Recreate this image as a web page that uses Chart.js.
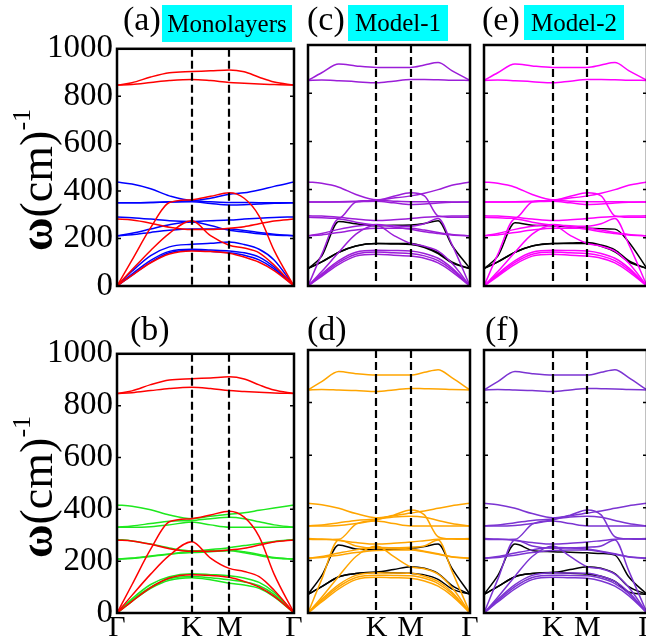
<!DOCTYPE html>
<html>
<head>
<meta charset="utf-8">
<script src="https://cdn.jsdelivr.net/npm/chart.js@4.4.0/dist/chart.umd.min.js"></script>
<style>
    body { margin: 0; background: #fff; overflow: hidden; }
    #fig { position: relative; width: 646px; height: 641px; overflow: hidden; background: #fff;
           font-family: "Liberation Serif", Tinos, "Times New Roman", "Nimbus Roman", FreeSerif, "DejaVu Serif", serif; color: #000; }
    #fig canvas { position: absolute; }
    .lbl { position: absolute; font-size: 34px; line-height: 34px; white-space: nowrap; }
    .tag { position: absolute; background: #00ffff; font-size: 25px; text-align: center; white-space: nowrap; }
    .ylab { position: absolute; width: 220px; height: 50px; line-height: 50px; text-align: center;
            font-size: 46px; transform: rotate(-90deg); white-space: nowrap; }
    .ylab sup { font-size: 26px; vertical-align: 22px; line-height: 0; }
</style>
</head>
<body>
<div id="fig">
    <canvas id="panel-a"></canvas>
    <canvas id="panel-c"></canvas>
    <canvas id="panel-e"></canvas>
    <canvas id="panel-b"></canvas>
    <canvas id="panel-d"></canvas>
    <canvas id="panel-f"></canvas>

    <div class="ylab" style="left:-73px; top:155px;"><b>ω</b>(cm)<sup>-1</sup></div>
    <div class="ylab" style="left:-73px; top:462px;"><b>ω</b>(cm)<sup>-1</sup></div>

    <div class="lbl" style="left:123px; top:2px;">(a)</div>
    <div class="tag" style="left:162px; top:5px; width:130px; height:37px; line-height:37px;">Monolayers</div>
    <div class="lbl" style="left:307px; top:2px;">(c)</div>
    <div class="tag" style="left:348px; top:5px; width:100px; height:36px; line-height:36px;">Model-1</div>
    <div class="lbl" style="left:482px; top:2px;">(e)</div>
    <div class="tag" style="left:524px; top:5px; width:100px; height:35px; line-height:35px;">Model-2</div>
    <div class="lbl" style="left:130px; top:312px;">(b)</div>
    <div class="lbl" style="left:307px; top:312px;">(d)</div>
    <div class="lbl" style="left:485px; top:312px;">(f)</div>
</div>

<script>
// k-path distance along Γ-K-M-Γ (hexagonal BZ, |ΓK| = 1)
var kPath = [0, 0.2, 0.45, 0.7, 1, 1.25, 1.5, 1.7, 1.9, 2.1, 2.366];
var kLabelPos = [0, 1, 1.5, 2.366];
var kLabelText = ['Γ', 'K', 'M', 'Γ'];

// frequencies in cm^-1, one row per band, read at kPath
var redBands = [
    [847, 850, 858, 866, 871, 866, 858, 855, 852, 849, 847],
    [847, 857, 881, 899, 904, 907, 911, 903, 880, 860, 847],
    [282, 278, 265, 248, 238, 238, 243, 250, 262, 274, 282],
    [0, 109, 246, 352, 364, 378, 393, 370, 295, 150, 0],
    [0, 68, 150, 222, 275, 212, 172, 160, 140, 88, 0],
    [0, 45, 98, 135, 148, 145, 138, 122, 100, 65, 0]
];

var blueBands = [
    [438, 430, 410, 380, 361, 370, 387, 393, 405, 420, 438],
    [351, 351, 352, 355, 359, 355, 352, 352, 351, 351, 351],
    [351, 351, 352, 354, 355, 348, 342, 343, 346, 349, 351],
    [291, 288, 282, 275, 272, 275, 278, 282, 286, 289, 291],
    [212, 222, 240, 258, 270, 255, 235, 228, 220, 215, 212],
    [212, 216, 226, 235, 240, 240, 240, 234, 226, 218, 212],
    [0, 62, 128, 165, 176, 180, 186, 175, 155, 110, 0],
    [0, 50, 108, 146, 155, 152, 148, 140, 122, 80, 0],
    [0, 45, 100, 140, 151, 146, 140, 130, 110, 72, 0]
];

var greenBands = [
    [417, 412, 398, 378, 364, 373, 381, 387, 396, 405, 417],
    [331, 336, 345, 354, 357, 364, 369, 364, 352, 340, 331],
    [331, 331, 333, 340, 351, 340, 331, 331, 331, 331, 331],
    [284, 278, 266, 251, 240, 245, 252, 260, 268, 276, 284],
    [208, 212, 220, 228, 237, 240, 242, 236, 226, 214, 208],
    [208, 210, 218, 227, 233, 236, 240, 232, 222, 212, 208],
    [0, 55, 110, 140, 151, 148, 144, 135, 118, 80, 0],
    [0, 50, 100, 132, 141, 136, 128, 120, 105, 72, 0],
    [0, 45, 95, 126, 136, 128, 115, 108, 95, 62, 0]
];

// heterostructure bands, top row (c, e)
var modelTopBands = [
    [853, 885, 921, 913, 907, 907, 907, 917, 927, 894, 853],
    [853, 855, 852, 848, 843, 850, 857, 857, 856, 854, 853],
    [432, 426, 410, 380, 358, 365, 374, 385, 400, 418, 432],
    [349, 349, 350, 352, 355, 352, 350, 350, 350, 349, 349],
    [349, 349, 349, 350, 352, 345, 338, 340, 344, 347, 349],
    [285, 283, 281, 349, 355, 372, 387, 374, 291, 285, 285],
    [0, 131, 278, 265, 253, 250, 248, 258, 280, 174, 0],
    [291, 290, 285, 278, 272, 275, 280, 285, 288, 290, 291],
    [208, 218, 235, 248, 255, 245, 235, 225, 218, 212, 208],
    [208, 212, 222, 232, 240, 240, 240, 232, 222, 214, 208],
    [0, 60, 140, 215, 252, 210, 176, 165, 145, 95, 0],
    [0, 50, 105, 140, 148, 147, 145, 135, 115, 75, 0],
    [0, 45, 98, 132, 141, 138, 135, 125, 105, 68, 0],
    [0, 40, 90, 124, 132, 128, 124, 115, 96, 60, 0]
];

// heterostructure bands, bottom row (d, f)
var modelBottomBands = [
    [848, 880, 918, 910, 905, 905, 905, 915, 925, 895, 848],
    [848, 850, 848, 846, 842, 848, 854, 853, 852, 850, 848],
    [417, 412, 398, 378, 362, 370, 380, 388, 398, 408, 417],
    [331, 335, 343, 352, 357, 365, 368, 364, 352, 340, 331],
    [331, 331, 333, 340, 350, 340, 331, 331, 331, 331, 331],
    [280, 279, 280, 338, 354, 372, 392, 373, 290, 281, 280],
    [0, 128, 278, 255, 246, 248, 250, 255, 278, 161, 0],
    [283, 281, 276, 268, 262, 265, 270, 275, 280, 282, 283],
    [208, 215, 228, 240, 250, 247, 243, 235, 225, 214, 208],
    [208, 211, 220, 230, 238, 240, 240, 233, 223, 213, 208],
    [0, 60, 140, 215, 255, 215, 176, 168, 148, 98, 0],
    [0, 52, 108, 143, 153, 152, 151, 140, 120, 80, 0],
    [0, 47, 100, 135, 144, 143, 142, 132, 112, 74, 0],
    [0, 42, 92, 127, 136, 134, 132, 122, 102, 66, 0]
];

// interlayer (black) bands
var blackC = [
    [72, 124, 268, 258, 250, 252, 253, 259, 271, 170, 72],
    [72, 100, 140, 166, 176, 176, 176, 163, 138, 100, 72],
    [72, 100, 140, 166, 176, 174, 172, 160, 134, 96, 72]
];
var blackE = [
    [72, 124, 262, 252, 250, 245, 240, 238, 236, 183, 72],
    [72, 100, 140, 166, 176, 178, 181, 170, 150, 105, 72],
    [72, 100, 140, 166, 176, 176, 176, 165, 142, 100, 72]
];
var blackD = [
    [71, 142, 259, 243, 240, 242, 246, 253, 262, 171, 71],
    [71, 100, 138, 150, 155, 165, 176, 170, 150, 105, 71],
    [71, 100, 138, 150, 155, 153, 151, 145, 128, 92, 71]
];
var blackF = [
    [71, 142, 262, 238, 233, 231, 229, 226, 220, 138, 71],
    [71, 100, 138, 150, 154, 165, 176, 170, 150, 100, 71],
    [71, 100, 138, 150, 154, 151, 148, 140, 120, 80, 71]
];

Chart.defaults.font.family = "'Liberation Serif', Tinos, 'Times New Roman', 'Nimbus Roman', FreeSerif, 'DejaVu Serif', serif";
Chart.defaults.color = '#000';

// frame, dashed K/M lines and inner ticks
var framePlugin = {
    id: 'frame',
    afterDatasetsDraw: function(chart) {
        var ctx = chart.ctx;
        var area = chart.chartArea;
        var xs = chart.scales.x;
        var ys = chart.scales.y;
        ctx.save();
        ctx.strokeStyle = '#000';
        ctx.lineWidth = 2.2;
        ctx.setLineDash([8, 4]);
        [kLabelPos[1], kLabelPos[2]].forEach(function(k) {
            var px = Math.round(xs.getPixelForValue(k));
            ctx.beginPath();
            ctx.moveTo(px, area.top);
            ctx.lineTo(px, area.bottom);
            ctx.stroke();
        });
        ctx.setLineDash([]);
        ctx.lineWidth = 1.5;
        [200, 400, 600, 800].forEach(function(v) {
            var py = ys.getPixelForValue(v);
            ctx.beginPath();
            ctx.moveTo(area.left, py); ctx.lineTo(area.left + 4, py);
            ctx.moveTo(area.right - 4, py); ctx.lineTo(area.right, py);
            ctx.stroke();
        });
        ctx.lineWidth = 2.5;
        ctx.strokeRect(area.left, area.top, area.right - area.left, area.bottom - area.top);
        ctx.restore();
    }
};

function toPoints(band) {
    return band.map(function(v, i) { return {x: kPath[i], y: v}; });
}

function makeDatasets(groups) {
    var sets = [];
    groups.forEach(function(g) {
        g.bands.forEach(function(band) {
            sets.push({
                data: toPoints(band),
                borderColor: g.color,
                borderWidth: 1.5,
                pointRadius: 0,
                fill: false,
                cubicInterpolationMode: 'monotone'
            });
        });
    });
    return sets;
}

// box = [left, top, width, height] of the plot frame in page pixels
function drawPanel(id, box, groups, showY, xTicks) {
    var padL = showY ? box[0] : 14;
    var padR = 14, padT = 20;
    var padB = xTicks ? 28 : 20;
    var canvas = document.getElementById(id);
    canvas.width = box[2] + padL + padR;
    canvas.height = box[3] + padT + padB;
    canvas.style.left = (box[0] - padL) + 'px';
    canvas.style.top = (box[1] - padT) + 'px';

    return new Chart(canvas, {
        type: 'line',
        data: { datasets: makeDatasets(groups) },
        plugins: [framePlugin],
        options: {
            responsive: false,
            animation: false,
            devicePixelRatio: 1,
            layout: { padding: { left: showY ? 0 : padL, right: padR, top: padT, bottom: xTicks ? 0 : padB } },
            plugins: { legend: { display: false }, tooltip: { enabled: false } },
            scales: {
                x: {
                    type: 'linear', min: 0, max: kLabelPos[3],
                    display: !!xTicks,
                    grid: { display: false, drawTicks: false },
                    border: { display: false },
                    afterBuildTicks: function(s) {
                        if (xTicks) s.ticks = xTicks.map(function(v) { return {value: v}; });
                    },
                    afterFit: function(s) { s.height = padB; },
                    ticks: {
                        autoSkip: false, maxRotation: 0, padding: 0,
                        font: { size: 30, lineHeight: 1 },
                        callback: function(v) { return kLabelText[kLabelPos.indexOf(v)]; }
                    }
                },
                y: {
                    min: 0, max: 1000,
                    display: showY,
                    grid: { display: false, drawTicks: false },
                    border: { display: false },
                    afterFit: function(s) { s.width = padL; },
                    ticks: {
                        stepSize: 200, padding: 4,
                        font: { size: 33 },
                        callback: function(v) { return v; }
                    }
                }
            }
        }
    });
}

drawPanel('panel-a', [117, 45, 177, 261],
    [{bands: redBands, color: '#ff0000'}, {bands: blueBands, color: '#0000ff'}], true, null);
drawPanel('panel-c', [294, 45, 176, 261],
    [{bands: modelTopBands, color: '#9b1ed8'}, {bands: blackC, color: '#000000'}], false, null);
drawPanel('panel-e', [470, 45, 177, 261],
    [{bands: modelTopBands, color: '#ff00ff'}, {bands: blackE, color: '#000000'}], false, null);
drawPanel('panel-b', [117, 350, 177, 263],
    [{bands: redBands, color: '#ff0000'}, {bands: greenBands, color: '#1ee81e'}], true, kLabelPos);
drawPanel('panel-d', [294, 350, 176, 263],
    [{bands: modelBottomBands, color: '#ffa500'}, {bands: blackD, color: '#000000'}], false, kLabelPos.slice(1));
drawPanel('panel-f', [470, 350, 177, 263],
    [{bands: modelBottomBands, color: '#7b34d2'}, {bands: blackF, color: '#000000'}], false, kLabelPos.slice(1));
</script>
</body>
</html>
